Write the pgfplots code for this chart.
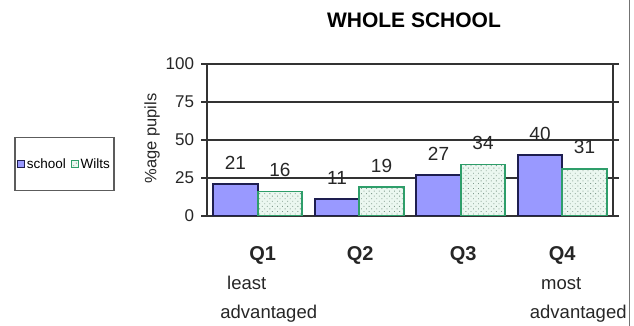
\documentclass[border=0pt]{standalone}
\usepackage{pgfplots}
\pgfplotsset{compat=1.18}
\usepackage{fontspec}
\setmainfont{Liberation Sans}
\usetikzlibrary{patterns.meta}
\definecolor{schoolfill}{HTML}{9999FF}
\definecolor{schoolline}{HTML}{1E1E50}
\definecolor{wiltsline}{HTML}{2E9E6A}
\definecolor{wiltsfill}{HTML}{EBF7F0}
\definecolor{wiltsdot}{HTML}{7F9A8C}
\definecolor{axisgray}{HTML}{333333}
\newcommand{\Q}[1]{{\fontsize{20}{29}\selectfont\textbf{#1}}}
\begin{document}
\begin{tikzpicture}
\path[use as bounding box] (0pt,0pt) rectangle (634pt,326pt);
\draw[black!55, line width=1pt] (629.5pt,0pt) -- (629.5pt,326pt);
\begin{axis}[
  at={(207pt,110pt)}, anchor=south west,
  scale only axis, width=406pt, height=152pt,
  xmin=-0.5, xmax=3.5, ymin=0, ymax=100,
  ybar=0pt, bar width=44.5pt,
  /pgf/number format/assume math mode=true,
  axis line style={axisgray, line width=1.2pt},
  ytick={0,25,50,75,100},
  ymajorgrids, grid style={axisgray, line width=1.1pt},
  ytick style={axisgray, line width=1.1pt},
  tick align=outside, major tick length=5.5pt,
  xtick={0,1,2,3}, xtick style={draw=none},
  xticklabels={
    {\hspace*{10pt}\Q{Q1}\\\hspace*{-22pt}least\\\hspace*{22pt}advantaged},
    {\hspace*{2pt}\Q{Q2}},
    {\hspace*{5pt}\Q{Q3}},
    {\Q{Q4}\\\hspace*{-2pt}most\\\hspace*{32pt}advantaged}},
  xticklabel style={align=center, anchor=north, yshift=-22pt, font=\fontsize{18.5}{29}\selectfont, text=black!85},
  yticklabel style={font=\fontsize{17}{20}\selectfont, text=black!85, xshift=-4pt},
  nodes near coords,
  nodes near coords style={font=\fontsize{19}{22}\selectfont, text=black!85, anchor=south, inner sep=0pt, yshift=14pt},
  legend columns=2,
  legend style={at={(-0.351,0.342)}, anchor=center, draw=axisgray!80, line width=1.6pt,
    font=\fontsize{13.5}{15}\selectfont, inner xsep=2pt, inner ysep=19pt,
    /tikz/every even column/.append style={column sep=3pt}},
  legend image code/.code={\draw[#1, line width=0.8pt] (0pt,-3.5pt) rectangle (7pt,3.5pt);},
]
\addplot[fill=schoolfill, draw=schoolline, line width=1.6pt] coordinates {(0,21) (1,11) (2,27) (3,40)};
\addplot[fill=wiltsfill, draw=wiltsline, line width=1.6pt,
  postaction={pattern={Dots[distance=3.6pt, angle=45, radius=0.6pt]}, pattern color=wiltsdot}]
  coordinates {(0,16) (1,19) (2,34) (3,31)};
\legend{school, Wilts}
\end{axis}
\node[font=\bfseries\fontsize{21}{24}\selectfont, anchor=base] at (414pt,298pt) {WHOLE SCHOOL};
\node[font=\fontsize{16.5}{19}\selectfont, rotate=90, text=black!85] at (152pt,187.5pt) {\%age pupils};
\end{tikzpicture}
\end{document}
